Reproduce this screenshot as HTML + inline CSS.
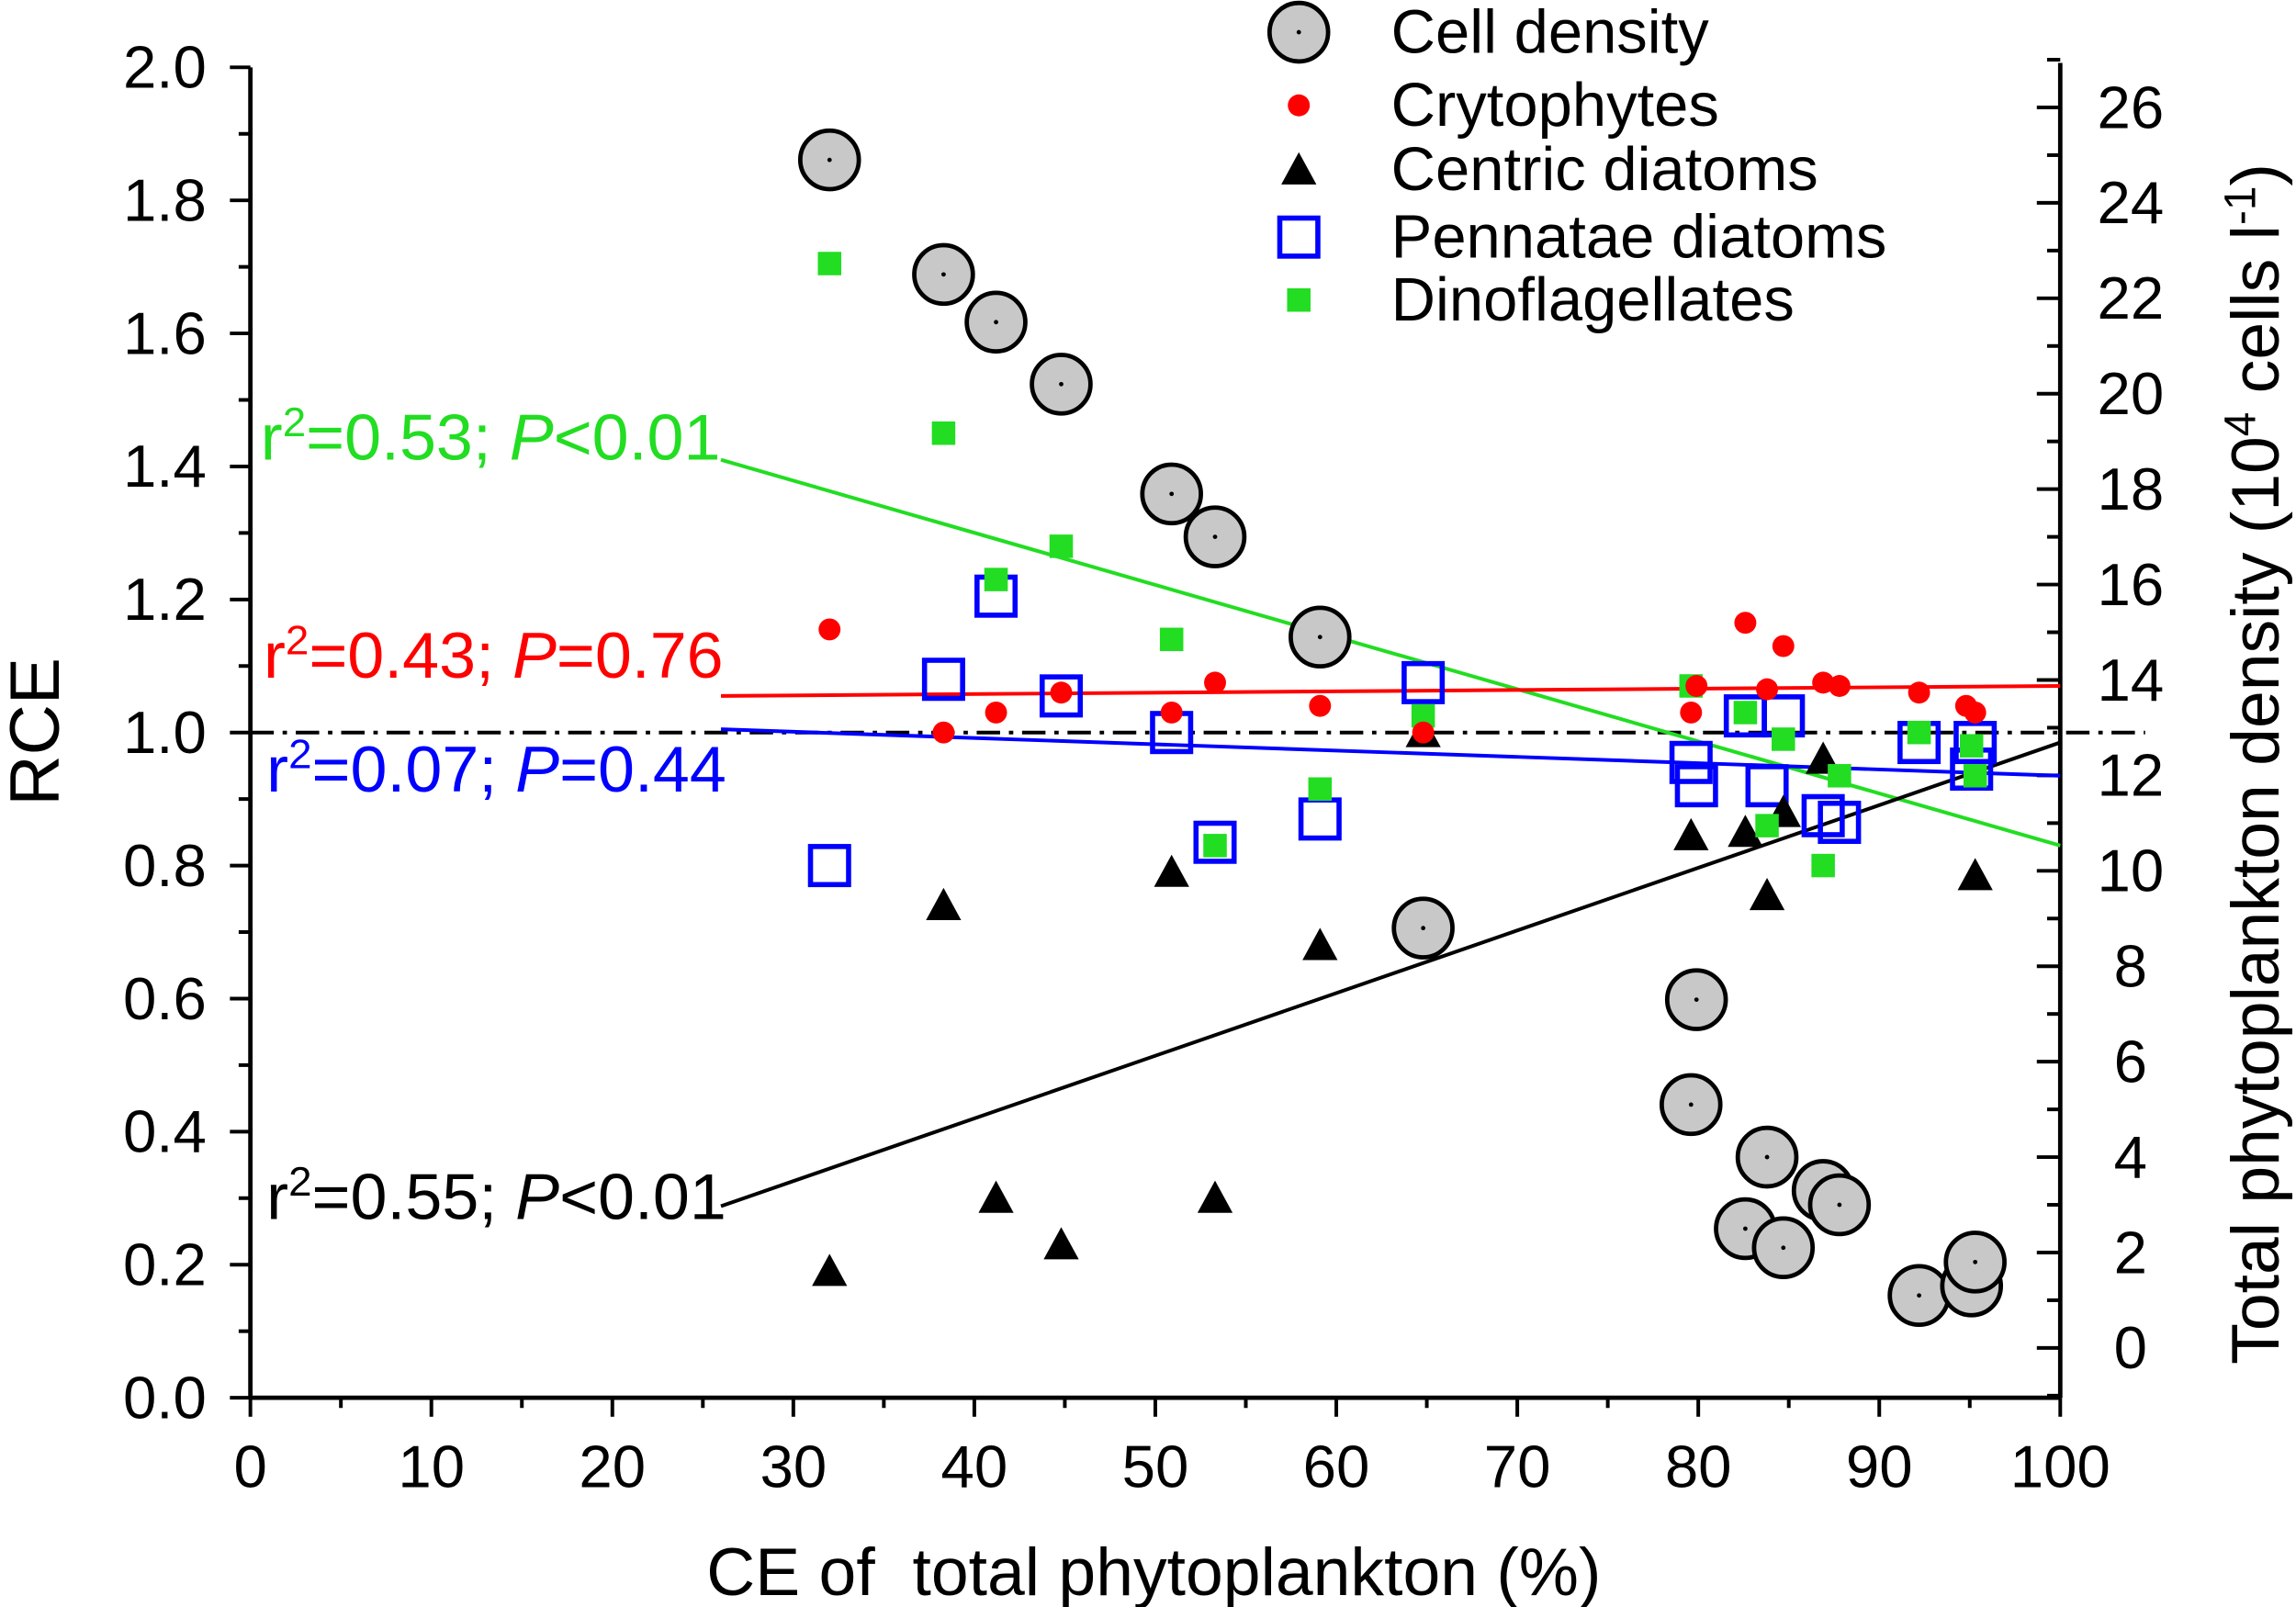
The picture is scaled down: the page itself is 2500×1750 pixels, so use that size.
<!DOCTYPE html>
<html><head><meta charset="utf-8"><style>
html,body{margin:0;padding:0;background:#fff}
svg{display:block}
text{font-family:"Liberation Sans",sans-serif}
</style></head><body>
<svg id="chart" width="2500" height="1750" viewBox="0 0 1568 1098" preserveAspectRatio="none" xmlns="http://www.w3.org/2000/svg">
<g id="axes"></g>
<g id="fits"></g>
<g id="marks"></g>
<g id="legend"></g>
</svg>
<script>
const xTicks=[0,10,20,30,40,50,60,70,80,90,100];
const yTicks=[0,0.2,0.4,0.6,0.8,1.0,1.2,1.4,1.6,1.8,2.0];
const y2Ticks=[0,2,4,6,8,10,12,14,16,18,20,22,24,26];
const cellX=[32.0,38.3,41.2,44.8,50.9,53.3,59.1,64.8,79.9,79.6,83.8,82.6,84.7,86.9,87.8,92.2,95.1,95.3];
const cellY=[24.9,22.5,21.5,20.2,17.9,17.0,14.9,8.8,7.3,5.1,4.0,2.5,2.1,3.3,3.0,1.1,1.3,1.8];
const crytoX=[32.0,38.3,41.2,44.8,50.9,53.3,59.1,64.8,79.6,79.9,82.6,83.8,84.7,86.9,87.8,92.2,94.8,95.3];
const crytoY=[1.155,1.0,1.03,1.06,1.03,1.075,1.04,1.0,1.03,1.07,1.165,1.065,1.13,1.075,1.07,1.06,1.04,1.03];
const centX=[32.0,38.3,41.2,44.8,50.9,53.3,59.1,64.8,79.6,82.6,83.8,84.7,86.9,95.3];
const centY=[0.19,0.74,0.30,0.23,0.79,0.30,0.68,1.0,0.845,0.85,0.755,0.88,0.96,0.785];
const pennX=[32.0,38.3,41.2,44.8,50.9,53.3,59.1,64.8,79.6,79.9,82.6,83.8,84.7,86.9,87.8,92.2,95.3,95.1];
const pennY=[0.80,1.08,1.205,1.055,1.0,0.835,0.87,1.075,0.955,0.92,1.025,0.92,1.025,0.875,0.865,0.985,0.985,0.945];
const dinoX=[32.0,38.3,41.2,44.8,50.9,53.3,59.1,64.8,79.6,82.6,83.8,84.7,86.9,87.8,92.2,95.1,95.3];
const dinoY=[1.705,1.45,1.23,1.28,1.14,0.83,0.915,1.025,1.07,1.03,0.86,0.99,0.80,0.935,1.0,0.98,0.935];
const fitGreen=[26,1.41,100,0.83];
const fitRed=[26,1.055,100,1.07];
const fitBlue=[26,1.005,100,0.935];
const fitBlack=[26,0.288,100,0.985];

const NS="http://www.w3.org/2000/svg";
const X=v=>171+v*12.36;
const Y=v=>955-v*454.5;
const Y2=v=>921-v*32.6;
function mk(tag,attrs,parent,txt){const e=document.createElementNS(NS,tag);for(const k in attrs)e.setAttribute(k,attrs[k]);if(txt!==undefined)e.textContent=txt;parent.appendChild(e);return e;}
const axes=document.getElementById('axes'),fits=document.getElementById('fits'),marks=document.getElementById('marks'),legend=document.getElementById('legend');

let e;
e=mk('line',{x1:171,y1:955,x2:171,y2:46,stroke:'#000','stroke-width':3},axes);


e=mk('line',{x1:171,y1:955,x2:1407,y2:955,stroke:'#000','stroke-width':3},axes);


e=mk('line',{x1:1407,y1:955,x2:1407,y2:43,stroke:'#000','stroke-width':3},axes);



xTicks.forEach((t,i)=>{
  mk('line',{x1:X(t),y1:955,x2:X(t),y2:968,stroke:'#000','stroke-width':2.5},axes);
  if(i<xTicks.length-1) mk('line',{x1:X(t+5),y1:955,x2:X(t+5),y2:962,stroke:'#000','stroke-width':2.5},axes);
  e=mk('text',{x:X(t),y:1016,'font-size':41,'text-anchor':'middle'},axes,String(t));
  
  
});
yTicks.forEach((t,i)=>{
  mk('line',{x1:171,y1:Y(t),x2:157,y2:Y(t),stroke:'#000','stroke-width':2.5},axes);
  if(i<yTicks.length-1) mk('line',{x1:171,y1:Y(t+0.1),x2:163,y2:Y(t+0.1),stroke:'#000','stroke-width':2.5},axes);
  e=mk('text',{x:141,y:Y(t)+14,'font-size':41,'text-anchor':'end'},axes,t.toFixed(1));
  
  
});
y2Ticks.forEach(t=>{
  mk('line',{x1:1407,y1:Y2(t),x2:1391,y2:Y2(t),stroke:'#000','stroke-width':2.5},axes);
  mk('line',{x1:1407,y1:Y2(t+1),x2:1398,y2:Y2(t+1),stroke:'#000','stroke-width':2.5},axes);
  e=mk('text',{x:1455,y:Y2(t)+14,'font-size':41,'text-anchor':'middle'},axes,String(t));
  
  
});
mk('line',{x1:1407,y1:Y2(-1),x2:1398,y2:Y2(-1),stroke:'#000','stroke-width':2.5},axes);

e=mk('text',{x:788,y:1090,'font-size':46,'text-anchor':'middle'},axes,'CE of\u00a0 total phytoplankton (%)');


e=mk('text',{x:0,y:0,'font-size':48,'text-anchor':'middle',transform:'translate(40,500) rotate(-90)'},axes,'RCE');


e=mk('text',{x:0,y:0,'font-size':46,'text-anchor':'middle',transform:'translate(1556,522) rotate(-90)'},axes);


e.innerHTML='Total phytoplankton density (10<tspan dy="-16" font-size="30">4</tspan><tspan dy="16"> cells l</tspan><tspan dy="-16" font-size="30">-1</tspan><tspan dy="16">)</tspan>';

e=mk('line',{x1:171,y1:Y(1),x2:1465,y2:Y(1),stroke:'#000','stroke-width':2.5,'stroke-dasharray':'16 6 3 6'},fits);



function fit(a,col,name){
  const l=mk('line',{x1:X(a[0]),y1:Y(a[1]),x2:X(a[2]),y2:Y(a[3]),stroke:col,'stroke-width':2.5},fits);
  
  
}
fit(fitGreen,'#22dd22','fit-dinoflagellates');
fit(fitRed,'#ff0000','fit-crytophytes');
fit(fitBlue,'#0000ff','fit-pennatae');
fit(fitBlack,'#000','fit-centric');

function ann(x,y,col,r,pOp,pv,name){
  const t=mk('text',{x:x,y:y,'font-size':44,fill:col,textLength:314,lengthAdjust:'spacingAndGlyphs'},fits);
  
  
  t.innerHTML='r<tspan dy="-16" font-size="28">2</tspan><tspan dy="16">='+r+'; </tspan><tspan font-style="italic">P</tspan>'+pOp+pv;
}
ann(178,314,'#22dd22','0.53','&lt;','0.01','annotation-dinoflagellates');
ann(180,463,'#ff0000','0.43','=','0.76','annotation-crytophytes');
ann(182,541,'#0000ff','0.07','=','0.44','annotation-pennatae');
ann(182,833,'#000','0.55','&lt;','0.01','annotation-centric');

function cell(cx,cy,g){mk('circle',{cx:cx,cy:cy,r:20,fill:'#c8c8c8',stroke:'#000','stroke-width':3},g);mk('circle',{cx:cx,cy:cy,r:1.5,fill:'#000'},g);}
function dot(cx,cy,g){mk('circle',{cx:cx,cy:cy,r:7.5,fill:'#ff0000'},g);}
function tri(cx,cy,g){mk('polygon',{points:`${cx},${cy-12} ${cx-12},${cy+10} ${cx+12},${cy+10}`,fill:'#000'},g);}
function sq(cx,cy,g){mk('rect',{x:cx-13,y:cy-13,width:26,height:26,fill:'none',stroke:'#0000ff','stroke-width':3.5},g);}
function gsq(cx,cy,g){mk('rect',{x:cx-8,y:cy-8,width:16,height:16,fill:'#22dd22'},g);}

cellX.forEach((v,i)=>{const g=mk('g',{},marks);


cell(X(v),Y2(cellY[i]),g);});
pennX.forEach((v,i)=>{const g=mk('g',{},marks);


sq(X(v),Y(pennY[i]),g);});
centX.forEach((v,i)=>{const g=mk('g',{},marks);


tri(X(v),Y(centY[i]),g);});
dinoX.forEach((v,i)=>{const g=mk('g',{},marks);


gsq(X(v),Y(dinoY[i]),g);});
crytoX.forEach((v,i)=>{const g=mk('g',{},marks);


dot(X(v),Y(crytoY[i]),g);});

const leg=[['Cell density',22,cell],['Crytophytes',72,dot],['Centric diatoms',116,tri],['Pennatae diatoms',162,sq],['Dinoflagellates',205,gsq]];
leg.forEach(l=>{const g=mk('g',{},legend);


l[2](887,l[1],g);
mk('text',{x:950,y:l[1]+14,'font-size':42},g,l[0]);});
</script>
</body></html>
